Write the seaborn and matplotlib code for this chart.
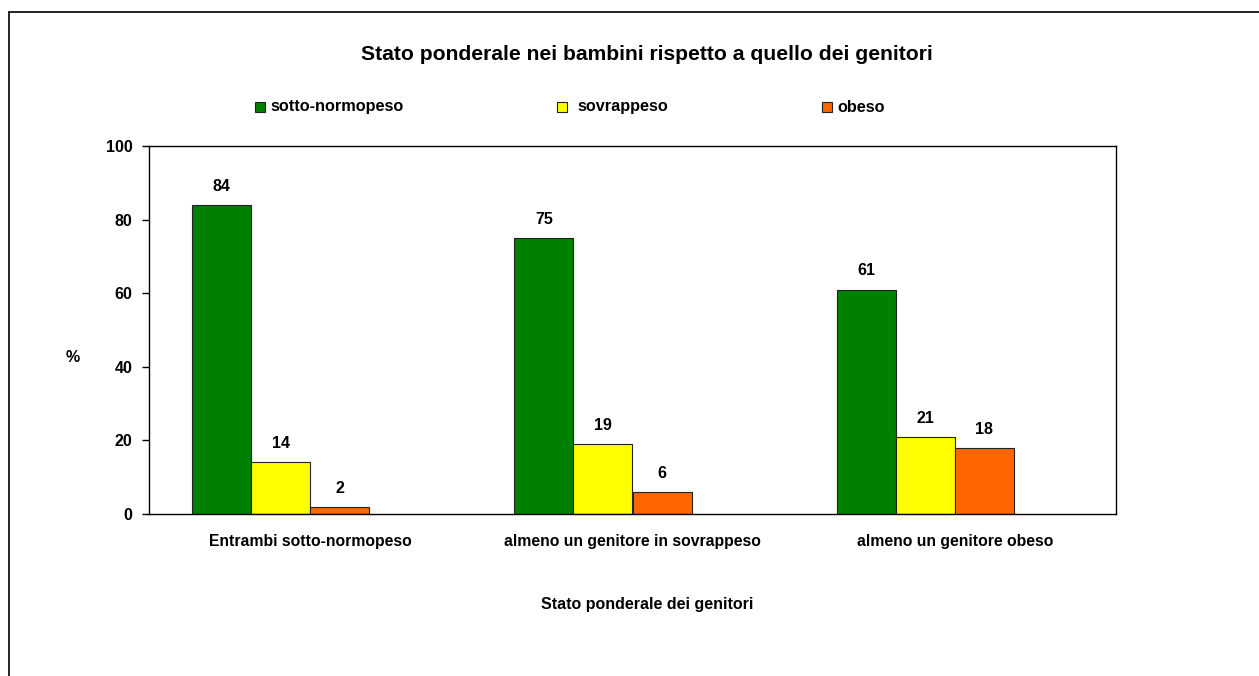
import matplotlib
matplotlib.use("Agg")
import matplotlib.pyplot as plt
import pandas as pd
import seaborn as sns
from matplotlib.patches import Rectangle
from matplotlib.lines import Line2D

categories = ["Entrambi sotto-normopeso", "almeno un genitore in sovrappeso", "almeno un genitore obeso"]
series = ["sotto-normopeso", "sovrappeso", "obeso"]
sotto_normopeso = [84, 75, 61]
sovrappeso = [14, 19, 21]
obeso = [2, 6, 18]
colors = ["#008000", "#FFFF00", "#FF6600"]

rows = []
for name, vals in zip(series, [sotto_normopeso, sovrappeso, obeso]):
    for cat, v in zip(categories, vals):
        rows.append({"genitori": cat, "stato": name, "valore": v})
df = pd.DataFrame(rows)

sns.set_style("white")
plt.rcParams['font.family'] = ['Liberation Sans', 'DejaVu Sans']
plt.rcParams['font.weight'] = 'bold'
plt.rcParams['text.color'] = 'black'
plt.rcParams['xtick.color'] = 'black'
plt.rcParams['ytick.color'] = 'black'

W, H = 1259, 676
fig = plt.figure(figsize=(W / 100, H / 100), dpi=100)
ax = fig.add_axes([149 / W, 1 - 514 / H, (1116 - 149) / W, (514 - 146) / H])

# excel leaves an empty fourth slot in every group
hue_order = series + [" "]
palette = dict(zip(hue_order, colors + ["white"]))
sns.barplot(data=df, x="genitori", y="valore", hue="stato", hue_order=hue_order,
            palette=palette, width=0.733, edgecolor="#222222", linewidth=0.8,
            saturation=1, legend=False, ax=ax)

for cont in ax.containers:
    ax.bar_label(cont, fmt="%d", padding=8, fontsize=11.5, fontweight="bold", color="black")

ax.set_ylim(0, 100)
ax.set_yticks(range(0, 101, 20))
ax.set_xlim(-0.5, 2.5)
ax.tick_params(axis="y", which="both", left=True, length=5, width=1, pad=7, labelsize=11.5)
ax.tick_params(axis="x", bottom=False, pad=11, labelsize=11.3)
for lab in ax.get_xticklabels() + ax.get_yticklabels():
    lab.set_fontweight("bold")
ax.set_xlabel("")
ax.set_ylabel("")
for sp in ax.spines.values():
    sp.set_visible(True)
    sp.set_color("black")
    sp.set_linewidth(1)

fig.text(647 / W, 1 - 55 / H, "Stato ponderale nei bambini rispetto a quello dei genitori",
         ha="center", va="center", fontsize=15.2, fontweight="bold")
fig.text(647 / W, 1 - 605 / H, "Stato ponderale dei genitori",
         ha="center", va="center", fontsize=11.5, fontweight="bold")
fig.text(73 / W, 1 - 357 / H, "%", ha="center", va="center", fontsize=11.5, fontweight="bold")

# legend laid out like the original
leg_x = [255, 557, 822]
txt_x = [270, 577, 837]
for lx, tx, name, c in zip(leg_x, txt_x, series, colors):
    fig.patches.append(Rectangle((lx / W, 1 - 112 / H), 10 / W, 10 / H, transform=fig.transFigure,
                                 facecolor=c, edgecolor="#222222", linewidth=0.8))
    fig.text(tx / W, 1 - 107 / H, name, ha="left", va="center", fontsize=11.7, fontweight="bold")

# chart frame (only left and top edges are in view)
fig.lines.append(Line2D([9 / W, 9 / W], [0, 1 - 12 / H], transform=fig.transFigure, color="black", lw=1.2))
fig.lines.append(Line2D([9 / W, 1], [1 - 12 / H, 1 - 12 / H], transform=fig.transFigure, color="black", lw=1.2))

fig.savefig("out.png", dpi=100)
